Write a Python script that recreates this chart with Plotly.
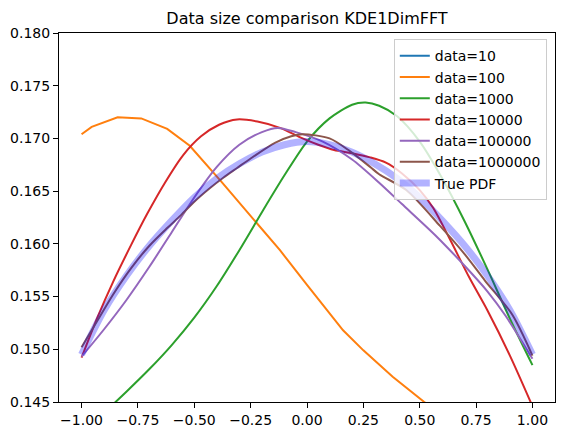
import plotly.graph_objects as go

# data=10 (outside visible range)
x_10 = [-1.0, -0.5, 0.0, 0.5, 1.0]
y_10 = [0.205, 0.215, 0.220, 0.214, 0.204]

x_100 = [-1.0, -0.955, -0.84, -0.735, -0.62, -0.52, -0.38, -0.25, -0.12, 0.0, 0.16, 0.25, 0.38, 0.52, 0.75, 1.0]
y_100 = [0.1704, 0.1711, 0.1720, 0.1719, 0.1709, 0.1693, 0.1659, 0.1626, 0.1594, 0.1561, 0.1518, 0.1499, 0.1474, 0.1450, 0.1415, 0.1385]

x_1000 = [-1.0, -0.9, -0.8, -0.7, -0.6, -0.5, -0.4, -0.3, -0.2, -0.1, 0.0, 0.1, 0.2, 0.26, 0.32, 0.4, 0.5, 0.6, 0.7, 0.8, 0.9, 1.0]
y_1000 = [0.1422, 0.1440, 0.1460, 0.1481, 0.1504, 0.1530, 0.1560, 0.1594, 0.1630, 0.1665, 0.1697, 0.1719, 0.1732, 0.1734, 0.1731, 0.1721, 0.1697, 0.1662, 0.1621, 0.1576, 0.1529, 0.1485]

x_10000 = [-1.0, -0.93, -0.86, -0.78, -0.71, -0.63, -0.55, -0.47, -0.39, -0.31, -0.22, -0.12, -0.03, 0.05, 0.12, 0.2, 0.28, 0.35, 0.42, 0.5, 0.56, 0.63, 0.72, 0.8, 0.9, 1.0]
y_10000 = [0.1492, 0.1530, 0.1564, 0.1599, 0.1628, 0.1658, 0.1684, 0.1702, 0.1713, 0.1718, 0.1716, 0.1710, 0.1701, 0.1694, 0.1689, 0.1686, 0.1682, 0.1677, 0.1667, 0.1651, 0.1634, 0.1606, 0.1568, 0.1537, 0.1494, 0.1446]

x_100000 = [-1.0, -0.9, -0.8, -0.7, -0.6, -0.5, -0.4, -0.3, -0.2, -0.13, -0.05, 0.07, 0.2, 0.32, 0.42, 0.57, 0.7, 0.8, 0.88, 1.0]
y_100000 = [0.1493, 0.1519, 0.1547, 0.1578, 0.1611, 0.1644, 0.1673, 0.1694, 0.1706, 0.1710, 0.1706, 0.1697, 0.1680, 0.1658, 0.1638, 0.1608, 0.1579, 0.1555, 0.1532, 0.1491]

x_1000000 = [-1.0, -0.93, -0.86, -0.78, -0.7, -0.62, -0.56, -0.5, -0.43, -0.37, -0.31, -0.25, -0.14, -0.07, -0.02, 0.1, 0.19, 0.28, 0.32, 0.44, 0.59, 0.7, 0.79, 0.91, 1.0]
y_1000000 = [0.1502, 0.1527, 0.1552, 0.1577, 0.1598, 0.1615, 0.1627, 0.1640, 0.1653, 0.1663, 0.1672, 0.1681, 0.1696, 0.1702, 0.1704, 0.1700, 0.1688, 0.1673, 0.1666, 0.1651, 0.1617, 0.1590, 0.1565, 0.1533, 0.1494]

x_true = [-1.0, -0.9, -0.8, -0.7, -0.6, -0.5, -0.4, -0.3, -0.2, -0.1, 0.0, 0.1, 0.2, 0.3, 0.4, 0.5, 0.6, 0.7, 0.8, 0.9, 1.0]
y_true = [0.1495, 0.1537, 0.1570, 0.1598, 0.1622, 0.1644, 0.1662, 0.1676, 0.1687, 0.1694, 0.1697, 0.1694, 0.1687, 0.1676, 0.1662, 0.1644, 0.1622, 0.1598, 0.1570, 0.1537, 0.1495]

series = [
    ("data=10", x_10, y_10, "#1f77b4"),
    ("data=100", x_100, y_100, "#ff7f0e"),
    ("data=1000", x_1000, y_1000, "#2ca02c"),
    ("data=10000", x_10000, y_10000, "#d62728"),
    ("data=100000", x_100000, y_100000, "#9467bd"),
    ("data=1000000", x_1000000, y_1000000, "#8c564b"),
]

fig = go.Figure()
for name, xs, ys, col in series:
    if name == "data=100":
        line = dict(color=col, width=2, shape="linear")
    else:
        line = dict(color=col, width=2, shape="spline", smoothing=0.8)
    fig.add_trace(go.Scatter(x=xs, y=ys, mode="lines", name=name, line=line))
fig.add_trace(go.Scatter(x=x_true, y=y_true, mode="lines", name="True PDF",
                         line=dict(color="rgba(0,0,255,0.3)", width=7, shape="spline", smoothing=0.8)))

axis_common = dict(showline=True, linecolor="black", linewidth=1, mirror=True,
                   ticks="outside", ticklen=5, tickwidth=1, tickcolor="black",
                   showgrid=False, zeroline=False, automargin=False,
                   tickfont=dict(family="DejaVu Sans", size=14, color="black"))

W, H = 549, 419
fig.update_layout(
    width=W, height=H,
    margin=dict(l=51, r=2, t=25, b=25, pad=0),
    plot_bgcolor="white", paper_bgcolor="white",
    title=dict(text="Data size comparison KDE1DimFFT", x=0.5, xref="paper",
               y=1 - 10 / H, yref="container", yanchor="middle",
               font=dict(family="DejaVu Sans", size=16, color="black")),
    xaxis=dict(range=[-1.1, 1.1], tickvals=[-1.0, -0.75, -0.5, -0.25, 0.0, 0.25, 0.5, 0.75, 1.0],
               tickformat=".2f", **axis_common),
    yaxis=dict(range=[0.145, 0.180], tickvals=[0.145, 0.150, 0.155, 0.160, 0.165, 0.170, 0.175, 0.180],
               tickformat=".3f", **axis_common),
    legend=dict(x=0.675, y=0.983, xanchor="left", yanchor="top",
                bgcolor="rgba(255,255,255,0.8)", bordercolor="#cccccc", borderwidth=1,
                font=dict(family="DejaVu Sans", size=14, color="black"),
                tracegroupgap=0, itemwidth=30),
    showlegend=True,
)

fig.write_html("out.html")
